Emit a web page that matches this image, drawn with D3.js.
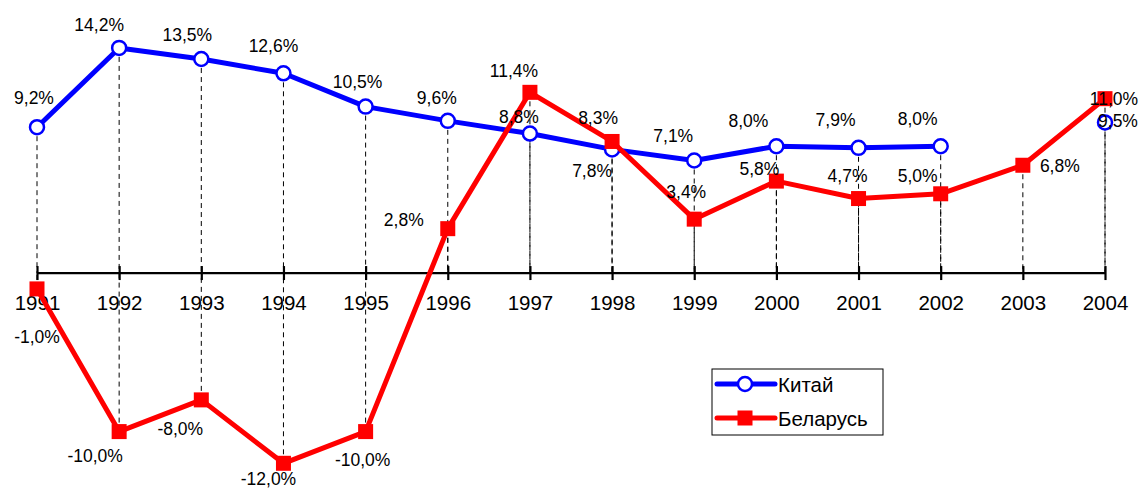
<!DOCTYPE html>
<html>
<head>
<meta charset="utf-8">
<script src="https://cdn.jsdelivr.net/npm/d3@7"></script>
<style>
  body { margin: 0; background: #fff; }
  svg { font-family: "Liberation Sans", Arial, sans-serif; }
</style>
</head>
<body>
<div id="chart"></div>
<script>
// data
const years = [1991, 1992, 1993, 1994, 1995, 1996, 1997, 1998, 1999, 2000, 2001, 2002, 2003, 2004];
const chinaValues = [9.2, 14.2, 13.5, 12.6, 10.5, 9.6, 8.8, 7.8, 7.1, 8.0, 7.9, 8.0, null, 9.5];
const belarusValues = [-1.0, -10.0, -8.0, -12.0, -10.0, 2.8, 11.4, 8.3, 3.4, 5.8, 4.7, 5.0, 6.8, 11.0];
const seriesNames = ["Китай", "Беларусь"];

// where each data label sits relative to its point (dx, dy of baseline centre)
const chinaLabelOffsets = [[-3, -23], [-20, -17], [-14, -18], [-10, -21], [-8, -19], [-11, -17], [-11, -11],
  [-20, 28], [-21, -18], [-28, -19], [-23, -22], [-23, -21], null, [13, 5]];
const belarusLabelOffsets = [[0, 54], [-24, 30], [-21, 35], [-15, 22], [-3, 34], [-44, -3], [-16, -15],
  [-14, -17], [-8, -21], [-17, -6], [-11, -17], [-23, -12], [37, 7], [9, 6]];

// Excel-style "9,2%" with a plain hyphen
const fmt = v => d3.format(".1f")(v).replace(".", ",").replace("\u2212", "-") + "%";

class GrowthChart {
  constructor() {
    this.config = {
      parentElement: "#chart",
      width: 1141,
      height: 491,
    };
    this.initVis();
  }

  initVis() {
    const vis = this;

    vis.svg = d3.select(vis.config.parentElement)
      .append("svg")
      .attr("width", vis.config.width)
      .attr("height", vis.config.height);

    vis.xScale = d3.scalePoint().domain(years).range([37, 1105]);
    vis.yScale = d3.scaleLinear().domain([-14, 16]).range([495, 19.4]);

    vis.series = [
      { name: seriesNames[0], values: chinaValues, offsets: chinaLabelOffsets, color: "#0000ff", marker: "circle" },
      { name: seriesNames[1], values: belarusValues, offsets: belarusLabelOffsets, color: "#ff0000", marker: "square" },
    ].map(s => {
      const all = years.map((y, i) => ({ year: y, value: s.values[i], off: s.offsets[i] }));
      return { ...s, all: all, points: all.filter(d => d.value !== null) };
    });

    vis.renderVis();
  }

  renderVis() {
    const vis = this;
    const x = vis.xScale, y = vis.yScale;

    // drop lines from every point to the axis
    const dropG = vis.svg.append("g");
    vis.series.forEach(s => {
      dropG.selectAll(null)
        .data(s.points)
        .join("line")
        .attr("x1", d => x(d.year))
        .attr("x2", d => x(d.year))
        .attr("y1", d => y(d.value))
        .attr("y2", y(0))
        .attr("stroke", "#000")
        .attr("stroke-width", 1)
        .attr("stroke-dasharray", "5,4");
    });

    // category axis on zero
    const axis = d3.axisBottom(x).tickSize(0).tickPadding(0);
    const axisG = vis.svg.append("g")
      .attr("transform", `translate(0,${y(0)})`)
      .call(axis);
    axisG.select(".domain").remove();
    axisG.append("line")
      .attr("x1", x(years[0])).attr("x2", x(years[years.length - 1]))
      .attr("stroke", "#000").attr("stroke-width", 2.2);
    axisG.selectAll(".tick").append("line")
      .attr("y1", -7).attr("y2", 7)
      .attr("stroke", "#000").attr("stroke-width", 2.2);
    axisG.selectAll(".tick text")
      .attr("y", 37)
      .attr("dy", null)
      .attr("fill", "#000")
      .style("font-size", "20.5px")
      .style("font-family", "Liberation Sans, Arial, sans-serif");

    // lines + markers (China has no 2003 value, so its line breaks there)
    const line = d3.line()
      .defined(d => d.value !== null)
      .x(d => x(d.year))
      .y(d => y(d.value));
    vis.series.forEach(s => {
      const g = vis.svg.append("g");
      g.append("path")
        .datum(s.all)
        .attr("d", line)
        .attr("fill", "none")
        .attr("stroke", s.color)
        .attr("stroke-width", 5)
        .attr("stroke-linejoin", "round");
      vis.drawMarkers(g, s.points, s);
    });

    // data labels on top
    vis.series.forEach(s => {
      vis.svg.append("g").selectAll("text")
        .data(s.points)
        .join("text")
        .attr("x", d => x(d.year) + d.off[0])
        .attr("y", d => y(d.value) + d.off[1])
        .attr("text-anchor", "middle")
        .attr("fill", "#000")
        .style("font-size", "17.5px")
        .text(d => fmt(d.value));
    });

    // legend
    const legend = vis.svg.append("g").attr("transform", "translate(712,369)");
    legend.append("rect")
      .attr("width", 171).attr("height", 66)
      .attr("fill", "#fff").attr("stroke", "#000").attr("stroke-width", 1);
    vis.series.forEach((s, i) => {
      const row = legend.append("g").attr("transform", `translate(0,${15 + i * 34})`);
      row.append("line")
        .attr("x1", 5).attr("x2", 63)
        .attr("stroke", s.color).attr("stroke-width", 5)
        .attr("stroke-linecap", "round");
      vis.drawMarkers(row, [{ cx: 33, cy: 0 }], s, true);
      row.append("text")
        .attr("x", 66).attr("y", 7.5)
        .attr("fill", "#000")
        .style("font-size", "20.5px")
        .text(s.name);
    });
  }

  drawMarkers(g, data, s, fixed) {
    const x = this.xScale, y = this.yScale;
    const px = d => fixed ? d.cx : x(d.year);
    const py = d => fixed ? d.cy : y(d.value);
    if (s.marker === "circle") {
      g.selectAll(null).data(data).join("circle")
        .attr("cx", px).attr("cy", py).attr("r", 7)
        .attr("fill", "#fff").attr("stroke", s.color).attr("stroke-width", 2.5);
    } else {
      g.selectAll(null).data(data).join("rect")
        .attr("x", d => px(d) - 7.5).attr("y", d => py(d) - 7.5)
        .attr("width", 15).attr("height", 15)
        .attr("fill", s.color);
    }
  }
}

const chart = new GrowthChart();
</script>
</body>
</html>
